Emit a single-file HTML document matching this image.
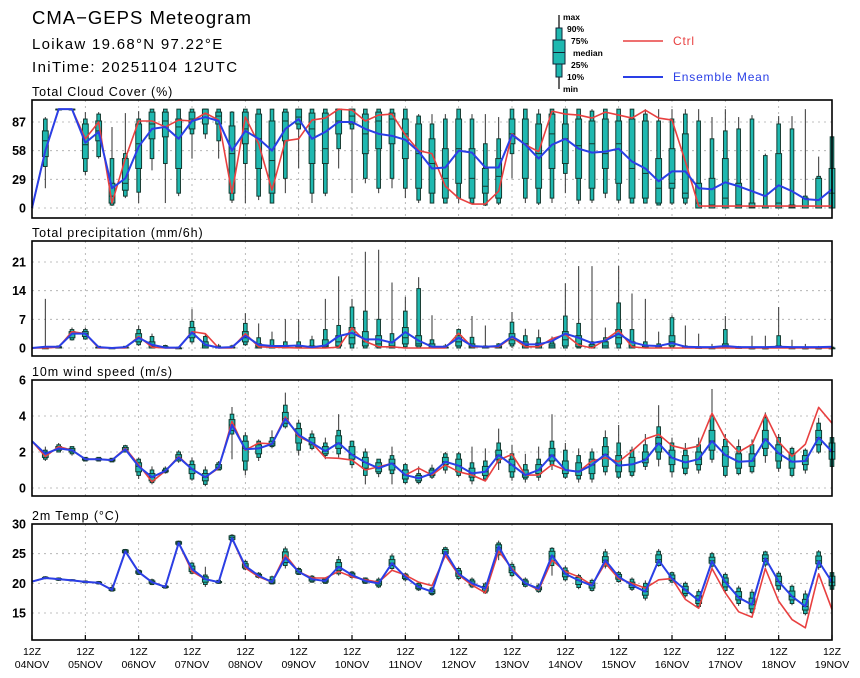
<!DOCTYPE html>
<html><head><meta charset="utf-8"><style>
html,body{margin:0;padding:0;background:#fff;}
svg{display:block;font-family:"Liberation Sans",sans-serif;}
</style></head><body>
<svg id="chart" width="860" height="678" viewBox="0 0 860 678" xmlns="http://www.w3.org/2000/svg">
<text x="32" y="24" font-size="18.5" letter-spacing="1" fill="#000">CMA−GEPS Meteogram</text>
<text x="32" y="49" font-size="15" letter-spacing="1.3" fill="#000">Loikaw 19.68°N 97.22°E</text>
<text x="32" y="72" font-size="15" letter-spacing="1.4" fill="#000">IniTime: 20251104 12UTC</text>
<g>
<line x1="559" y1="15" x2="559" y2="89" stroke="#000" stroke-width="1.2"/>
<rect x="556" y="28" width="6" height="49" fill="#1fb8b0" stroke="#123" stroke-width="1"/>
<rect x="553" y="40" width="12" height="24" fill="#1fb8b0" stroke="#123" stroke-width="1"/>
<line x1="553" y1="52.5" x2="565" y2="52.5" stroke="#123" stroke-width="1"/>
<g font-size="8.5" font-weight="bold" fill="#000">
<text x="563" y="20">max</text><text x="567" y="32">90%</text><text x="571" y="44">75%</text><text x="573" y="56">median</text><text x="571" y="68">25%</text><text x="567" y="80">10%</text><text x="563" y="92">min</text></g>
<line x1="623" y1="41" x2="663" y2="41" stroke="#e84040" stroke-width="1.5"/>
<text x="673" y="45" font-size="12" letter-spacing="0.8" fill="#e84040">Ctrl</text>
<line x1="623" y1="77" x2="663" y2="77" stroke="#2a3fe6" stroke-width="2"/>
<text x="673" y="81" font-size="12" letter-spacing="0.8" fill="#2a3fe6">Ensemble Mean</text>
</g>
</svg>
<script>
const dayLabels=["04NOV","05NOV","06NOV","07NOV","08NOV","09NOV","10NOV","11NOV","12NOV","13NOV","14NOV","15NOV","16NOV","17NOV","18NOV","19NOV"];
// ---- cloud ----
const cloudMean=[0,58,100,100,66,77,20,30,62,80,82,70,88,92,88,58,78,70,58,80,90,70,77,87,87,80,75,73,69,57,40,41,58,56,41,41,74,64,50,64,70,60,56,57,60,47,40,27,37,37,20,19,26,22,17,12,23,17,9,8,19];
const cloudCtrl=[0,58,100,100,70,87,5,50,88,88,82,89,88,96,89,15,92,65,18,68,70,89,91,100,99,88,94,95,74,58,55,22,10,4,4,17,75,64,57,98,95,94,91,97,94,91,99,91,89,47,2,2,2,2,2,2,2,2,2,2,2];
const cloudBox=[null,[20,42,52,68,78,90,92],[100,100,100,100,100,100,100],[100,100,100,100,100,100,100],[33,37,50,64,85,90,97],[50,52,68,78,88,95,97],[2,3,5,12,25,50,82],[10,12,18,25,50,55,96],[5,16,40,65,85,90,98],[38,50,70,85,97,100,100],[5,45,72,88,97,100,100],[12,15,40,82,90,100,100],[50,75,80,90,97,100,100],[70,75,85,95,100,100,100],[50,68,85,93,97,100,100],[5,8,15,55,83,97,98],[5,45,65,80,97,100,100],[8,12,40,70,95,100,100],[5,5,15,48,88,100,100],[15,30,68,88,97,100,100],[40,80,85,92,100,100,100],[5,15,45,80,96,100,100],[12,15,45,60,96,100,100],[40,60,75,88,100,100,100],[15,80,85,93,100,100,100],[25,30,55,75,95,100,100],[15,20,60,88,97,100,100],[20,30,65,90,96,100,100],[10,20,50,75,90,100,100],[5,8,20,55,85,93,95],[5,5,15,45,70,85,95],[5,5,10,30,60,90,95],[5,10,25,60,90,100,100],[5,5,10,30,60,90,95],[2,3,15,22,40,65,95],[3,5,10,32,50,70,92],[30,55,65,75,90,100,100],[5,10,30,65,90,100,100],[3,5,20,55,85,95,100],[5,10,40,75,95,100,100],[15,35,45,70,85,100,100],[4,8,30,63,90,100,100],[5,8,20,65,88,98,100],[10,15,40,55,90,100,100],[5,8,25,65,88,100,100],[5,5,10,40,90,100,100],[5,5,10,35,88,95,100],[3,3,5,20,50,88,100],[3,5,20,25,60,90,100],[3,5,10,15,75,95,100],[0,0,0,5,25,88,100],[0,0,0,3,30,70,92],[0,0,0,10,50,78,100],[0,0,0,3,25,80,92],[0,0,0,1,5,90,94],[0,0,0,0,2,53,55],[0,0,0,5,55,85,93],[0,0,0,1,3,80,93],[0,0,0,0,10,12,100],[0,0,0,0,30,32,52],[0,0,0,15,40,72,72]];
const cloudTicks=[0,29,58,87];
// ---- precip ----
const precMean=[0,0.3,0.3,3.5,3.5,0.2,0,0.2,2.5,0.8,0.1,0.1,3.8,0.8,0.1,0.2,3,0.8,0.5,0.5,0.6,0.2,0.6,2.9,3.7,2.1,2.1,1.3,3.9,1.8,0.3,0.3,2.5,0.5,0.3,0.5,2.8,0.9,0.9,1.7,3.5,2.5,1.2,1.8,3.5,1.4,0.6,0.5,1.2,0.3,0.2,0.2,0.5,0.2,0.2,0.2,0.3,0.2,0.2,0.2,0.3];
const precCtrl=[0,0,0.2,4,3.5,0,0,0,2.8,0.2,0,0,4,3.5,0,0,3.5,0.3,0.2,0.1,0,0,0,0.2,4.9,1.6,0.3,0.3,0,0,0,0,3.6,0.3,0.3,0.3,2.6,0.3,0.3,2.3,3.3,0.7,0,2,4.3,0.3,0,0,0,0,0,0,0,0,0,0,0,0,0,0,0];
const precBox=[null,[0,0,0,0,0,0.3,12],[0,0,0,0.2,0.3,0.5,0.6],[1.8,2,2.5,3.5,4,4.5,5],[2,2.2,2.8,3.5,4,4.5,5],[0,0,0,0.1,0.2,0.4,0.5],[0,0,0,0,0,0.1,0.2],[0,0,0,0.1,0.2,0.4,0.5],[0.5,0.8,1.5,2.5,3.5,4.5,5.5],[0,0,0,0.5,1.5,2.8,3.5],[0,0,0,0,0.3,0.6,0.8],[0,0,0,0,0,0.2,0.3],[1,1.5,2.5,3.5,5,6.5,9.5],[0,0,0,0.5,1.5,2.8,3.5],[0,0,0,0,0.2,0.5,1],[0,0,0,0,0.2,0.5,0.8],[0.5,0.8,1.5,2.5,4,6,8.5],[0,0,0,0.3,1,2.5,6],[0,0,0,0.2,0.5,2,4],[0,0,0,0.2,0.5,1.5,7],[0,0,0,0.2,0.6,1.5,7],[0,0,0,0.2,0.5,2,3],[0,0,0.2,0.5,2,4.5,12],[0,0,0.5,1.5,3,5.5,17.5],[0,0,1,2.5,5,10,12],[0,0,0.5,1.5,4,9,23.5],[0,0,0.3,1,3,7,24],[0,0,0,0.5,1.5,3.5,16],[0,0.3,1,2.5,5,9,12.5],[0,0,0.5,1,3,14.5,17.3],[0,0,0,0.3,1,2,8],[0,0,0,0,0.2,0.5,1],[0,0,0.5,1.5,3,4.5,4.8],[0,0,0,0.3,1,2.6,7.8],[0,0,0,0,0.2,0.5,5.5],[0,0,0,0.2,0.5,1,1.2],[0,0.5,1,2,3.5,6.3,8.8],[0,0,0,0.5,1.5,3,4.7],[0,0,0,0.5,1.2,2.5,4.5],[0,0,0,0.5,1,1.5,2.8],[0,0,0.5,2,4,7.8,15.8],[0,0,0.3,1,3,6,20],[0,0,0,0.3,0.8,1.5,20],[0,0,0,0.5,1.5,2.5,5],[0,0,1,2.5,4.5,11,20],[0,0,0,0.5,1.5,4.5,13.3],[0,0,0,0.2,0.5,1.5,12],[0,0,0,0,0.3,1,4],[0,0,0.5,1.5,3,7.4,8],[0,0,0,0,0.2,0.5,5.5],[0,0,0,0,0.1,0.3,3.5],[0,0,0,0,0,0.1,1],[0,0,0,0.3,1,4.5,7.8],[0,0,0,0,0.1,0.3,0.5],[0,0,0,0,0,0,3],[0,0,0,0,0,0,3],[0,0,0,0.2,0.5,3,10],[0,0,0,0,0,0.2,2],[0,0,0,0,0,0,1],[0,0,0,0,0,0,0.5],[0,0,0,0,0,0.2,0.5]];
const precTicks=[0,7,14,21];
// ---- wind ----
const windMean=[2.6,1.9,2.2,2.1,1.6,1.6,1.55,2.15,1.2,0.6,0.95,1.7,1.05,0.6,1.15,3.5,2.15,2.2,2.45,3.85,2.95,2.5,2.05,2.5,1.85,1.42,1.1,1.37,0.72,0.54,0.81,1.46,1.24,0.81,0.9,1.83,1.28,0.72,1.0,1.83,1.0,0.9,1.28,1.87,1.24,1.31,1.55,2.48,1.68,1.42,1.6,2.61,1.83,1.46,1.5,2.72,1.93,1.46,1.5,2.8,2.02];
const windCtrl=[2.6,1.75,2.3,2.1,1.6,1.6,1.55,2.2,1.3,0.35,0.95,1.75,1.05,0.6,1.1,3.7,2.1,2.5,2.45,3.95,2.85,2.5,1.68,1.65,1.55,1.0,1.18,1.37,0.72,1.1,0.72,1.28,0.9,0.72,0.39,1.55,1.87,0.72,0.72,1.3,1.0,0.9,1.5,1.68,1.46,2.05,2.72,2.98,2.35,2.17,2.33,4.15,2.76,2.0,2.43,4.09,2.57,1.76,2.43,4.48,3.6];
const windBox=[null,[1.5,1.6,1.7,1.9,2.0,2.1,2.3],[2.0,2.0,2.1,2.2,2.3,2.4,2.5],[1.8,1.9,2.0,2.1,2.2,2.3,2.3],[1.5,1.5,1.55,1.6,1.65,1.7,1.7],[1.5,1.5,1.55,1.6,1.65,1.7,1.7],[1.45,1.45,1.5,1.55,1.6,1.65,1.65],[2.0,2.0,2.1,2.15,2.25,2.35,2.4],[0.5,0.7,0.9,1.2,1.4,1.6,1.7],[0.2,0.3,0.4,0.6,0.8,1.0,1.2],[0.8,0.85,0.9,0.95,1.0,1.1,1.2],[1.4,1.5,1.6,1.7,1.85,2.0,2.1],[0.4,0.5,0.8,1.05,1.3,1.5,1.7],[0.1,0.2,0.4,0.6,0.8,1.0,1.2],[1.0,1.0,1.05,1.15,1.3,1.4,1.5],[1.6,3.0,3.2,3.5,3.8,4.1,4.5],[0.7,1.0,1.5,2.2,2.6,2.9,3.1],[1.5,1.7,1.9,2.2,2.4,2.6,2.7],[2.2,2.3,2.35,2.45,2.6,2.8,3.2],[3.3,3.4,3.6,3.85,4.2,4.6,5.3],[1.8,2.1,2.5,2.9,3.3,3.6,3.8],[2.1,2.2,2.4,2.5,2.8,3.0,3.2],[1.6,1.8,1.9,2.05,2.3,2.5,2.8],[1.7,1.9,2.2,2.5,2.9,3.2,4.1],[1.1,1.3,1.6,1.85,2.3,2.6,2.6],[0.2,0.7,1.1,1.42,1.7,2.0,2.2],[0.6,0.8,0.9,1.1,1.4,1.6,1.6],[0.2,0.8,1.0,1.37,1.6,1.8,2.3],[0.2,0.3,0.5,0.72,1.0,1.3,1.4],[0.2,0.3,0.4,0.54,0.7,0.8,1.2],[0.5,0.6,0.7,0.81,1.0,1.1,1.3],[0.8,1.0,1.3,1.46,1.7,1.9,2.0],[0.6,0.7,0.9,1.24,1.6,1.9,2.0],[0.2,0.4,0.6,0.81,1.1,1.4,2.3],[0.4,0.5,0.7,0.9,1.2,1.5,2.2],[1.0,1.4,1.6,1.83,2.1,2.5,3.3],[0.4,0.6,0.9,1.28,1.6,1.9,2.4],[0.3,0.5,0.6,0.72,1.0,1.3,1.9],[0.4,0.6,0.8,1.0,1.3,1.6,2.3],[1.0,1.3,1.5,1.83,2.2,2.6,4.1],[0.5,0.6,0.8,1.0,1.5,2.1,2.5],[0.3,0.5,0.7,0.95,1.4,1.8,2.2],[0.3,0.5,0.8,1.28,1.6,2.0,2.2],[0.7,0.9,1.2,1.87,2.3,2.8,3.2],[0.5,0.6,0.9,1.24,1.8,2.5,3.5],[0.6,0.7,0.9,1.31,1.7,2.1,2.3],[1.0,1.2,1.4,1.6,2.0,2.4,3.0],[1.2,1.6,2.0,2.48,2.8,3.4,4.6],[0.6,0.9,1.3,1.68,2.1,2.5,2.8],[0.7,0.8,1.1,1.42,1.8,2.1,2.5],[0.8,1.0,1.3,1.6,2.0,2.4,2.8],[1.4,1.6,2.1,2.61,3.2,4.0,5.5],[0.6,0.7,1.2,1.83,2.3,2.7,3.0],[0.7,0.8,1.1,1.46,1.9,2.3,2.7],[0.8,0.9,1.2,1.5,1.9,2.4,2.7],[1.4,1.8,2.2,2.72,3.2,3.9,4.2],[0.9,1.1,1.5,1.93,2.4,2.8,3.0],[0.6,0.7,1.1,1.46,1.9,2.2,2.3],[0.8,1.0,1.3,1.5,1.8,2.1,2.2],[1.9,2.0,2.4,2.8,3.2,3.6,3.9],[1.1,1.2,1.6,2.02,2.5,2.8,3.0]];
const windTicks=[0,2,4,6];
// ---- temp ----
const tempMean=[20.3,20.9,20.7,20.5,20.25,20.1,18.9,25.4,21.9,20.2,19.4,26.8,22.4,20.7,20.2,27.6,22.9,21.3,20.2,24.3,21.96,20.7,20.4,22.8,21.4,20.4,20.0,23.4,21.1,19.4,18.6,25.3,21.6,20.0,19.1,26.2,22.2,20.0,19.1,24.7,21.6,20.5,19.6,23.9,21.1,19.7,18.6,23.9,20.8,18.9,17.1,23.7,20.2,17.6,16.4,24.2,20.3,17.8,16.1,23.7,20.2];
const tempCtrl=[20.3,20.9,20.7,20.5,20.25,20.1,18.9,25.4,21.9,20.2,19.4,26.8,22.0,20.7,20.2,27.6,22.6,21.1,20.2,24.8,21.96,20.9,20.9,22.0,21.1,20.6,20.2,22.2,21.4,20.2,19.6,24.7,21.4,19.7,18.4,25.4,22.5,20.0,18.9,23.9,22.0,21.1,19.7,23.4,20.8,20.0,19.2,20.6,20.8,17.3,15.8,22.5,18.4,15.2,14.3,22.5,17.0,13.9,12.5,21.6,15.6];
const tempBox=[null,[20.7,20.8,20.85,20.9,21.0,21.1,21.2],[20.4,20.5,20.6,20.7,20.8,20.9,21.0],[20.3,20.4,20.45,20.5,20.6,20.6,20.7],[20.0,20.1,20.2,20.25,20.3,20.4,20.5],[19.8,19.9,20.0,20.1,20.2,20.3,20.4],[18.6,18.7,18.8,18.9,19.1,19.3,19.8],[25.0,25.1,25.2,25.4,25.6,25.7,25.8],[21.4,21.5,21.7,21.9,22.1,22.2,22.4],[19.7,19.8,20.0,20.2,20.4,20.6,20.8],[19.1,19.2,19.3,19.4,19.5,19.6,19.7],[26.3,26.4,26.6,26.8,27.0,27.1,27.2],[21.5,21.7,22.0,22.4,22.9,23.4,23.6],[19.4,19.8,20.2,20.7,21.1,21.4,22.8],[19.9,20.0,20.1,20.2,20.3,20.5,20.6],[27.0,27.2,27.4,27.7,28.0,28.1,28.3],[22.2,22.4,22.6,22.9,23.3,23.7,24.0],[20.8,21.0,21.1,21.3,21.5,21.7,21.9],[19.8,19.9,20.0,20.2,20.6,21.1,21.3],[22.5,23.0,23.5,24.3,25.3,25.8,26.2],[21.4,21.5,21.7,22.0,22.3,22.5,22.7],[20.1,20.2,20.4,20.7,21.0,21.2,21.4],[19.9,20.0,20.2,20.4,20.7,20.9,21.0],[21.3,21.6,22.2,22.8,23.5,24.0,24.6],[20.8,21.0,21.2,21.4,21.7,21.9,22.1],[19.9,20.0,20.2,20.4,20.7,20.9,21.0],[19.2,19.4,19.7,20.0,20.4,20.7,21.0],[22.1,22.5,23.0,23.4,24.0,24.6,25.0],[20.3,20.6,20.8,21.1,21.4,21.6,21.8],[18.7,18.9,19.1,19.4,19.7,20.0,20.2],[17.9,18.1,18.3,18.6,18.9,19.2,19.4],[24.6,24.8,25.0,25.3,25.7,26.0,26.2],[20.5,20.8,21.2,21.6,22.1,22.5,22.8],[19.2,19.4,19.7,20.0,20.4,20.7,21.0],[18.2,18.4,18.7,19.1,19.5,19.9,20.2],[23.9,24.8,25.3,26.0,26.5,26.8,27.2],[21.0,21.3,21.8,22.2,22.8,23.2,23.6],[19.3,19.5,19.8,20.0,20.4,20.7,21.0],[18.4,18.6,18.9,19.1,19.4,19.7,20.0],[21.3,23.0,23.8,24.6,25.4,25.9,26.1],[20.3,20.6,21.1,21.6,22.1,22.6,23.0],[19.0,19.3,19.8,20.5,21.0,21.3,21.6],[18.6,18.8,19.2,19.6,20.1,20.5,20.8],[22.5,22.9,23.5,23.9,24.5,25.3,25.8],[20.1,20.3,20.7,21.1,21.5,21.8,22.1],[18.7,19.0,19.3,19.7,20.2,20.7,21.0],[17.1,17.5,18.0,18.6,19.4,20.0,20.5],[22.8,23.0,23.5,24.0,24.8,25.4,25.8],[20.0,20.2,20.5,20.8,21.4,21.8,22.0],[17.6,17.9,18.3,18.9,19.5,20.0,20.3],[15.8,16.1,16.6,17.1,17.9,18.6,19.0],[22.5,22.9,23.4,23.8,24.4,25.0,25.3],[18.4,18.8,19.4,20.2,20.9,21.5,21.8],[16.2,16.6,17.2,17.8,18.6,19.2,19.6],[14.8,15.1,15.7,16.4,17.5,18.5,19.0],[22.7,23.1,23.7,24.2,24.8,25.3,25.5],[18.6,19.0,19.6,20.3,21.2,21.7,22.1],[16.3,16.6,17.2,17.8,18.7,19.5,19.8],[14.6,14.9,15.5,16.1,17.3,18.2,18.8],[22.3,22.7,23.3,23.8,24.6,25.3,25.6],[18.6,19.0,19.6,20.2,21.2,21.8,22.0]];
const tempTicks=[15,20,25,30];

const NS="http://www.w3.org/2000/svg";
const svg=document.getElementById('chart');
const X0=32,X1=832,NSTEP=60;
function xs(i){return X0+(X1-X0)*i/NSTEP;}
function mk(tag,attrs,parent){const e=document.createElementNS(NS,tag);for(const k in attrs)e.setAttribute(k,attrs[k]);(parent||svg).appendChild(e);return e;}

const panels=[
 {key:'cloud',title:'Total Cloud Cover (%)',top:100,bot:218,v0:0,y0:208,v1:87,y1:122,ticks:cloudTicks,mean:cloudMean,ctrl:cloudCtrl,box:cloudBox},
 {key:'precip',title:'Total precipitation (mm/6h)',top:241,bot:356,v0:0,y0:348,v1:21,y1:262,ticks:precTicks,mean:precMean,ctrl:precCtrl,box:precBox},
 {key:'wind',title:'10m wind speed (m/s)',top:380,bot:496,v0:0,y0:488,v1:6,y1:380,ticks:windTicks,mean:windMean,ctrl:windCtrl,box:windBox},
 {key:'temp',title:'2m Temp (°C)',top:524,bot:640,v0:15,y0:613,v1:30,y1:524,ticks:tempTicks,mean:tempMean,ctrl:tempCtrl,box:tempBox}
];
panels.forEach(p=>{
 const ys=v=>p.y0+(v-p.v0)*(p.y1-p.y0)/(p.v1-p.v0);
 const g=mk('g',{});
 
 
 const t=mk('text',{x:32,y:p.top-4,'font-size':12.5,'letter-spacing':0.9,fill:'#000'},g);t.textContent=p.title;
 
 
 p.ticks.forEach(v=>{
  const y=ys(v);
  if(y>p.top+1&&y<p.bot-1){const gl=mk('line',{x1:X0,x2:X1,y1:y,y2:y,stroke:'#aaa','stroke-width':0.8,'stroke-dasharray':'2,4'},g);
   
   }
  const tl=mk('text',{x:26,y:y+4.5,'font-size':12.5,'font-weight':'bold','text-anchor':'end',fill:'#000'},g);tl.textContent=v;
  
  
 });
 for(let d=1;d<dayLabels.length-1;d++){const x=xs(d*4);
  const vl=mk('line',{x1:x,x2:x,y1:p.top,y2:p.bot,stroke:'#aaa','stroke-width':0.8,'stroke-dasharray':'2,4'},g);
  
  }
 p.box.forEach((b,i)=>{
  if(!b)return;const x=xs(i);
  const bg=mk('g',{},g);
  
  
  mk('line',{x1:x,x2:x,y1:ys(b[0]),y2:ys(b[6]),stroke:'#333','stroke-width':1},bg);
  mk('rect',{x:x-1.8,y:ys(b[5]),width:3.6,height:Math.max(0.8,ys(b[1])-ys(b[5])),fill:'#1fb8b0',stroke:'#143a30','stroke-width':1},bg);
  mk('rect',{x:x-2.9,y:ys(b[4]),width:5.8,height:Math.max(0.8,ys(b[2])-ys(b[4])),fill:'#1fb8b0',stroke:'#143a30','stroke-width':1},bg);
  mk('line',{x1:x-2.9,x2:x+2.9,y1:ys(b[3]),y2:ys(b[3]),stroke:'#143a30','stroke-width':1},bg);
 });
 const line=(arr,col,w,name)=>{const pl=mk('polyline',{points:arr.map((v,i)=>xs(i)+','+ys(v)).join(' '),fill:'none',stroke:col,'stroke-width':w,'stroke-linejoin':'round'},g);
  
  };
 line(p.ctrl,'#e84040',1.6,p.key+'-ctrl-line');
 line(p.mean,'#2a3fe6',2,p.key+'-mean-line');
 const fr=mk('rect',{x:X0,y:p.top,width:X1-X0,height:p.bot-p.top,fill:'none',stroke:'#000','stroke-width':1.6},g);
 
 
 if(p.key==='temp'){
  dayLabels.forEach((d,k)=>{const x=xs(k*4);
   mk('line',{x1:x,x2:x,y1:p.bot,y2:p.bot-5,stroke:'#000','stroke-width':1.2},g);
   const a=mk('text',{x:x,y:655,'font-size':10.5,'text-anchor':'middle',fill:'#000'},g);a.textContent='12Z';
   
   
   const b=mk('text',{x:x,y:668,'font-size':10.5,'text-anchor':'middle',fill:'#000'},g);b.textContent=d;
   
   
  });
 }
});
</script>
</body></html>
